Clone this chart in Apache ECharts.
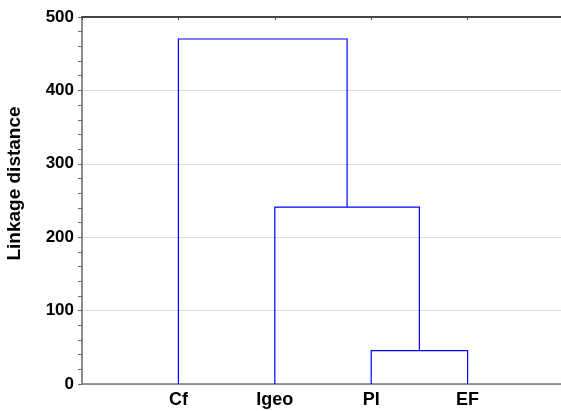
<!DOCTYPE html>
<html>
<head>
<meta charset="utf-8">
<script src="https://cdn.jsdelivr.net/npm/echarts@6/dist/echarts.min.js"></script>
<style>html,body{margin:0;padding:0;background:#fff;}#c{width:561px;height:411px;}</style>
</head>
<body>
<div id="c"></div>
<script>
// Leaves in display order
const categories = ['Cf', 'Igeo', 'PI', 'EF'];
// Merges: [left node, right node, linkage distance]; nodes: leaf index or 'm<k>' for earlier merge k
const mergeLeft = [2, 1, 0];
const mergeRight = [3, 'm0', 'm1'];
const mergeHeight = [45.6, 241, 470];
const yTicks = [0, 100, 200, 300, 400, 500];

const FONT = 'Liberation Sans, Arial, sans-serif';
const nodePos = [];
function pos(n) {
  if (typeof n === 'number') return { x: n + 1, h: 0 };
  return nodePos[parseInt(n.slice(1))];
}
// each link: [xLeft, hLeft, h, xRight, hRight]
const links = [];
for (let k = 0; k < mergeHeight.length; k++) {
  const a = pos(mergeLeft[k]), b = pos(mergeRight[k]), h = mergeHeight[k];
  links.push([a.x, a.h, h, b.x, b.h]);
  nodePos.push({ x: (a.x + b.x) / 2, h: h });
}

const chart = echarts.init(document.getElementById('c'), null, { renderer: 'canvas' });
chart.setOption({
  animation: false,
  backgroundColor: '#fff',
  grid: { left: 82, top: 17, bottom: 27, width: 482, containLabel: false, outerBoundsMode: 'none' },
  xAxis: [{
    type: 'value', min: 0, max: 5, interval: 1, position: 'bottom',
    axisLine: { show: true, lineStyle: { color: '#777', width: 1.5 } },
    axisTick: { show: false },
    splitLine: { show: false },
    axisLabel: {
      margin: 7, color: '#000', fontWeight: 'bold', fontSize: 18, fontFamily: FONT,
      formatter: v => (v >= 1 && v <= categories.length) ? categories[v - 1] : ''
    }
  }, {
    type: 'value', min: 0, max: 5, interval: 1, position: 'top',
    axisLine: { show: true, onZero: false, lineStyle: { color: '#444', width: 2 } },
    axisTick: { show: true, inside: true, length: 3, lineStyle: { color: '#444' } },
    splitLine: { show: false }, axisLabel: { show: false }
  }],
  yAxis: {
    type: 'value', min: yTicks[0], max: yTicks[yTicks.length - 1], interval: 100,
    name: 'Linkage distance', nameLocation: 'middle', nameGap: 58, nameRotate: 90,
    nameTextStyle: { color: '#000', fontWeight: 'bold', fontSize: 19, fontFamily: FONT, padding: [0, 0, 0, 34] },
    axisLine: { show: true, lineStyle: { color: '#666', width: 1.5 } },
    axisTick: { show: true, length: 4, lineStyle: { color: '#666' } },
    minorTick: { show: true, splitNumber: 5, length: 4, lineStyle: { color: '#666' } },
    splitLine: { show: true, lineStyle: { color: '#dcdcdc', width: 1 } },
    axisLabel: { margin: 8, color: '#000', fontWeight: 'bold', fontSize: 17, fontFamily: FONT }
  },
  series: [{
    type: 'custom', silent: true, animation: false, clip: false,
    data: links,
    renderItem: function (params, api) {
      const p1 = api.coord([api.value(0), api.value(1)]);
      const p2 = api.coord([api.value(0), api.value(2)]);
      const p3 = api.coord([api.value(3), api.value(2)]);
      const p4 = api.coord([api.value(3), api.value(4)]);
      return {
        type: 'polyline',
        shape: { points: [p1, p2, p3, p4] },
        style: { stroke: '#0000ff', lineWidth: 1.2, fill: null }
      };
    }
  }]
});
</script>
</body>
</html>
